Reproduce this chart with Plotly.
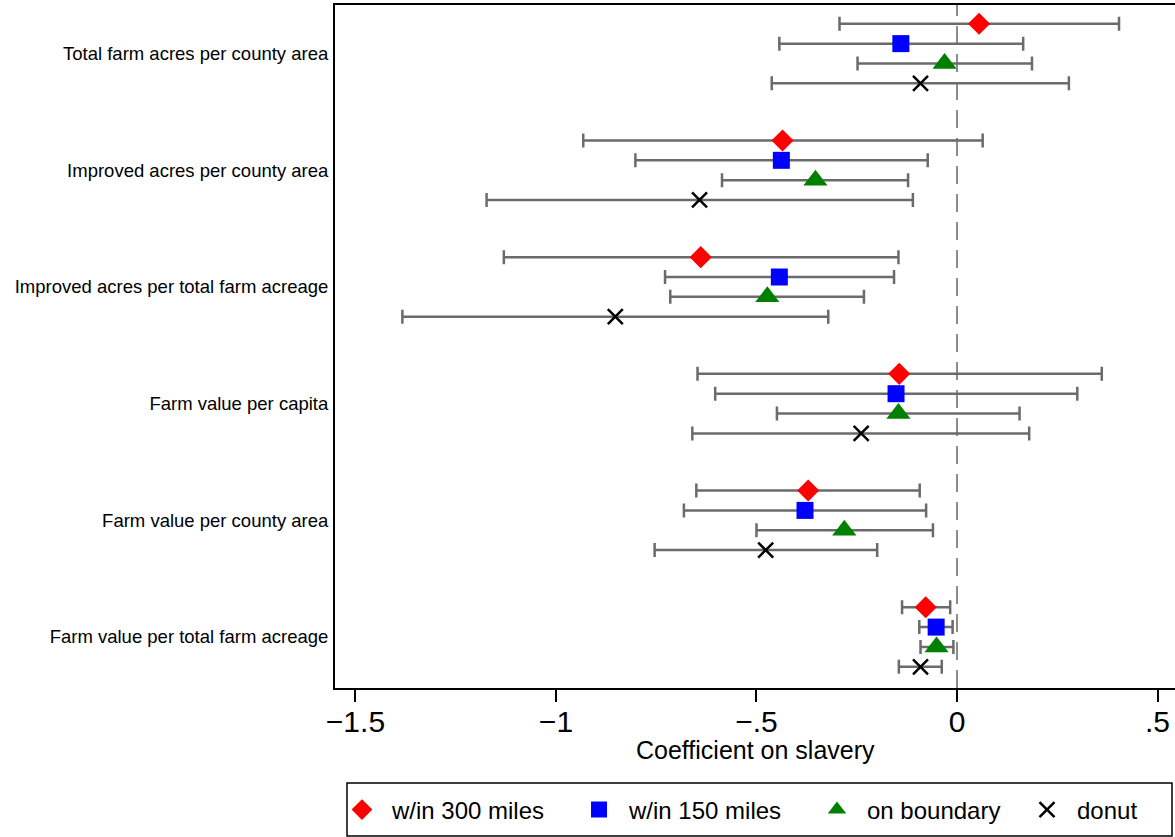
import plotly.graph_objects as go

categories = [
    "Total farm acres per county area",
    "Improved acres per county area",
    "Improved acres per total farm acreage",
    "Farm value per capita",
    "Farm value per county area",
    "Farm value per total farm acreage",
]

series_names = ["w/in 300 miles", "w/in 150 miles", "on boundary", "donut"]

# point estimates, lower CI, upper CI per series (one value per category)
est_300 = [0.055, -0.435, -0.639, -0.144, -0.371, -0.078]
lo_300 = [-0.293, -0.932, -1.130, -0.647, -0.650, -0.137]
hi_300 = [0.404, 0.064, -0.146, 0.361, -0.093, -0.017]

est_150 = [-0.140, -0.438, -0.443, -0.152, -0.379, -0.052]
lo_150 = [-0.443, -0.802, -0.728, -0.603, -0.681, -0.094]
hi_150 = [0.165, -0.073, -0.157, 0.300, -0.077, -0.011]

est_bnd = [-0.031, -0.353, -0.473, -0.146, -0.281, -0.051]
lo_bnd = [-0.248, -0.586, -0.715, -0.449, -0.500, -0.091]
hi_bnd = [0.187, -0.122, -0.232, 0.156, -0.060, -0.009]

est_don = [-0.091, -0.642, -0.852, -0.239, -0.477, -0.091]
lo_don = [-0.462, -1.173, -1.383, -0.660, -0.754, -0.145]
hi_don = [0.279, -0.110, -0.321, 0.180, -0.199, -0.038]

x_tickvals = [-1.5, -1, -0.5, 0, 0.5]
x_ticktext = ["\u22121.5", "\u22121", "\u2212.5", "0", ".5"]
x_title = "Coefficient on slavery"

ests = [est_300, est_150, est_bnd, est_don]
los = [lo_300, lo_150, lo_bnd, lo_don]
his = [hi_300, hi_150, hi_bnd, hi_don]
offsets = [-0.255, -0.085, 0.085, 0.255]
symbols = ["diamond", "square", "triangle-up", "x-thin"]
colors = ["#ff0000", "#0000ff", "#008000", "#000000"]
sizes = [17, 17, 21, 15]
legend_ids = ["legend", "legend2", "legend3", "legend4"]
legend_x = [-0.0036, 0.2786, 0.5619, 0.8119]

FONT = "Liberation Sans, Arial, sans-serif"

fig = go.Figure()
for name, e, lo, hi, off, sym, col, sz, lg in zip(series_names, ests, los, his, offsets,
                                                  symbols, colors, sizes, legend_ids):
    ys = [i + 1 + off for i in range(len(categories))]
    marker = dict(symbol=sym, color=col, size=sz)
    if sym == "x-thin":
        marker["line"] = dict(color=col, width=2.5)
    else:
        marker["line"] = dict(width=0)
    fig.add_trace(go.Scatter(
        x=e, y=ys, mode="markers", name=name, marker=marker, legend=lg,
        error_x=dict(type="data", symmetric=False,
                     array=[h - v for h, v in zip(hi, e)],
                     arrayminus=[v - l for v, l in zip(e, lo)],
                     color="#6b6b6b", thickness=2.5, width=7),
    ))

fig.add_shape(type="line", x0=0, x1=0, y0=0, y1=1, xref="x", yref="paper",
              line=dict(color="#8c8c8c", width=2, dash="18px,10px"), layer="below")

# legend frame
fig.add_shape(type="rect", xref="paper", yref="paper",
              x0=0.01429, x1=0.99643, y0=-0.2167, y1=-0.1391,
              line=dict(color="black", width=1.5), fillcolor="rgba(0,0,0,0)")

# x-axis title
fig.add_annotation(text=x_title, xref="paper", yref="paper", x=0.5, y=-0.0915,
                   xanchor="center", yanchor="middle", showarrow=False,
                   font=dict(size=25, family=FONT, color="black"))

legend_common = dict(orientation="h", xanchor="left", y=-0.1786, yanchor="middle",
                     borderwidth=0, bgcolor="rgba(0,0,0,0)",
                     font=dict(size=24, family=FONT, color="black"), itemwidth=50)

layout_legends = {}
for lg, lx in zip(legend_ids, legend_x):
    layout_legends[lg] = dict(legend_common, x=lx)

fig.update_layout(
    width=1175, height=837,
    margin=dict(l=335, r=0, t=5, b=149),
    paper_bgcolor="white", plot_bgcolor="white",
    font=dict(family=FONT, color="black"),
    showlegend=True,
    xaxis=dict(range=[-1.551, 0.5436], tickvals=x_tickvals, ticktext=x_ticktext,
               showgrid=False, zeroline=False, showline=True, linecolor="black",
               linewidth=2, mirror=True, ticks="outside", ticklen=12, tickwidth=2,
               tickcolor="black", tickfont=dict(size=30, family=FONT),
               ticklabelstandoff=-6),
    yaxis=dict(range=[6.437, 0.584], tickvals=list(range(1, len(categories) + 1)),
               ticktext=categories, showgrid=False, zeroline=False, showline=True,
               linecolor="black", linewidth=2, mirror=False, ticks="",
               tickfont=dict(size=18.5, family=FONT), ticklabelstandoff=1),
    **layout_legends,
)

fig.write_html("out.html")
